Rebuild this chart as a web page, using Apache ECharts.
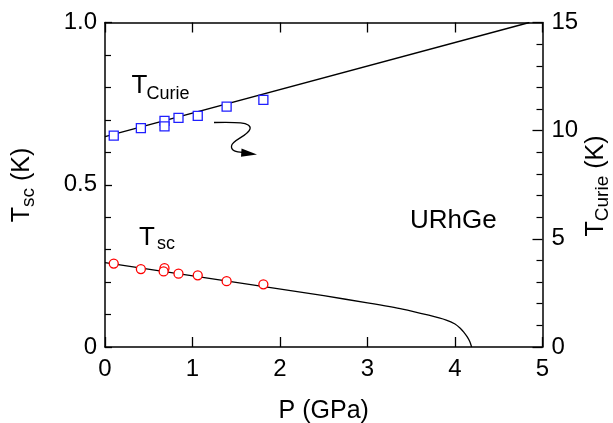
<!DOCTYPE html>
<html>
<head>
<meta charset="utf-8">
<script src="https://cdn.jsdelivr.net/npm/echarts@6/dist/echarts.min.js"></script>
<style>html,body{margin:0;padding:0;background:#fff;}#c{width:613px;height:423px;}</style>
</head>
<body>
<div id="c"></div>
<script>
// Data
var xTicks = [0, 1, 2, 3, 4, 5];
var leftTicks = ['0', '0.5', '1.0'];
var rightTicks = ['0', '5', '10', '15'];

// T_sc (left axis, K) measured points vs pressure (GPa)
var tscP = [0.10, 0.41, 0.68, 0.67, 0.84, 1.06, 1.39, 1.81];
var tscT = [0.257, 0.240, 0.243, 0.233, 0.226, 0.221, 0.203, 0.193];
// T_sc guide line
var tscLineP = [0, 2.5, 3.0, 3.4, 3.7, 3.9, 4.0, 4.06, 4.1, 4.14, 4.17, 4.19];
var tscLineT = [0.260, 0.158, 0.136, 0.117, 0.098, 0.083, 0.071, 0.058, 0.046, 0.031, 0.016, 0.0];

// T_Curie (right axis, K) measured points
var curieP = [0.10, 0.41, 0.68, 0.68, 0.84, 1.06, 1.39, 1.81];
var curieT = [9.77, 10.12, 10.45, 10.20, 10.59, 10.68, 11.11, 11.42];
// T_Curie guide line
var curieLineP = [0, 4.85];
var curieLineT = [9.72, 15];

function zip(a, b) { return a.map(function (v, i) { return [v, b[i]]; }); }

var chart = echarts.init(document.getElementById('c'), null, {renderer: 'canvas'});
var FONT = 'Liberation Sans, Arial, Helvetica, sans-serif';
var axisLine = {show: true, onZero: false, lineStyle: {color: '#000', width: 1.5}};

var option = {
  animation: false,
  backgroundColor: '#fff',
  grid: {left: 105, right: 70.5, top: 22.5, bottom: 76, containLabel: false, outerBoundsMode: 'none'},
  xAxis: [{
    type: 'value', min: 0, max: 5, interval: 1, position: 'bottom',
    axisLine: axisLine,
    axisTick: {show: true, inside: true, length: 10, lineStyle: {color: '#000', width: 1.3}},
    axisLabel: {show: true, margin: 10, fontSize: 24, color: '#000', fontFamily: FONT,
      formatter: function (v) { return String(xTicks[Math.round(v)]); }},
    splitLine: {show: false},
    name: 'P (GPa)', nameLocation: 'middle', nameGap: 52,
    nameTextStyle: {fontSize: 25, color: '#000', fontFamily: FONT}
  }, {
    type: 'value', min: 0, max: 5, interval: 1, position: 'top',
    axisLine: axisLine,
    axisTick: {show: true, inside: true, length: 10, lineStyle: {color: '#000', width: 1.3}},
    axisLabel: {show: false}, splitLine: {show: false}
  }],
  yAxis: [{
    type: 'value', min: 0, max: 1, interval: 0.5, position: 'left',
    axisLine: axisLine,
    axisTick: {show: true, inside: true, length: 7, lineStyle: {color: '#000', width: 1.3}},
    minorTick: {show: true, splitNumber: 5, length: 6, lineStyle: {color: '#000', width: 1.2}},
    axisLabel: {show: true, margin: 8, fontSize: 24, color: '#000', fontFamily: FONT,
      formatter: function (v) { return leftTicks[Math.round(v * 2)]; }},
    splitLine: {show: false}
  }, {
    type: 'value', min: 0, max: 15, interval: 5, position: 'right',
    axisLine: axisLine,
    axisTick: {show: true, inside: true, length: 10, lineStyle: {color: '#000', width: 1.3}},
    minorTick: {show: true, splitNumber: 5, length: 6, lineStyle: {color: '#000', width: 1.2}},
    axisLabel: {show: true, margin: 9, fontSize: 24, color: '#000', fontFamily: FONT,
      formatter: function (v) { return rightTicks[Math.round(v / 5)]; }},
    splitLine: {show: false}
  }],
  series: [{
    type: 'line', xAxisIndex: 0, yAxisIndex: 0, data: zip(tscLineP, tscLineT),
    showSymbol: false, symbol: 'none', smooth: 0.2,
    lineStyle: {color: '#000', width: 1.3}, z: 2
  }, {
    type: 'scatter', xAxisIndex: 0, yAxisIndex: 0, data: zip(tscP, tscT),
    symbol: 'circle', symbolSize: 9,
    itemStyle: {color: '#fff', borderColor: '#ff0000', borderWidth: 1.3, opacity: 1}, z: 3
  }, {
    type: 'line', xAxisIndex: 0, yAxisIndex: 1, data: zip(curieLineP, curieLineT),
    showSymbol: false, symbol: 'none',
    lineStyle: {color: '#000', width: 1.3}, z: 2
  }, {
    type: 'scatter', xAxisIndex: 0, yAxisIndex: 1, data: zip(curieP, curieT),
    symbol: 'rect', symbolSize: 9,
    itemStyle: {color: '#fff', borderColor: '#1f1fff', borderWidth: 1.3, opacity: 1}, z: 3
  }],
  graphic: [
    // in-plot labels
    {type: 'text', x: 131.5, y: 86, style: {text: 'T', fontSize: 26, fontFamily: FONT, fill: '#000', align: 'left', verticalAlign: 'middle'}},
    {type: 'text', x: 146.5, y: 93.7, style: {text: 'Curie', fontSize: 18, fontFamily: FONT, fill: '#000', align: 'left', verticalAlign: 'middle'}},
    {type: 'text', x: 139, y: 238, style: {text: 'T', fontSize: 26, fontFamily: FONT, fill: '#000', align: 'left', verticalAlign: 'middle'}},
    {type: 'text', x: 157, y: 244.2, style: {text: 'sc', fontSize: 18, fontFamily: FONT, fill: '#000', align: 'left', verticalAlign: 'middle'}},
    {type: 'text', x: 410, y: 220.5, style: {text: 'URhGe', fontSize: 26, fontFamily: FONT, fill: '#000', align: 'left', verticalAlign: 'middle'}},
    // axis names (rotated)
    {type: 'text', x: 24, y: 185, rotation: Math.PI / 2,
      style: {text: '{t|T}{s|sc}{t| (K)}', align: 'center', verticalAlign: 'middle', fill: '#000',
        rich: {t: {fontSize: 25, fontFamily: FONT, verticalAlign: 'bottom', padding: [0, 0, 4, 0], fill: '#000'},
               s: {fontSize: 19, fontFamily: FONT, verticalAlign: 'bottom', fill: '#000'}}}},
    {type: 'text', x: 598, y: 186, rotation: Math.PI / 2,
      style: {text: '{t|T}{s|Curie}{t| (K)}', align: 'center', verticalAlign: 'middle', fill: '#000',
        rich: {t: {fontSize: 25, fontFamily: FONT, verticalAlign: 'bottom', padding: [0, 0, 4, 0], fill: '#000'},
               s: {fontSize: 19, fontFamily: FONT, verticalAlign: 'bottom', fill: '#000'}}}},
    // curly arrow
    {type: 'bezierCurve', shape: {x1: 214, y1: 122.5, cpx1: 235, cpy1: 122, cpx2: 252, cpy2: 122, x2: 250, y2: 129},
      style: {fill: null, stroke: '#000', lineWidth: 1.3}},
    {type: 'bezierCurve', shape: {x1: 250, y1: 129, cpx1: 248, cpy1: 136, cpx2: 232, cpy2: 140, x2: 231.5, y2: 146},
      style: {fill: null, stroke: '#000', lineWidth: 1.3}},
    {type: 'bezierCurve', shape: {x1: 231.5, y1: 146, cpx1: 231, cpy1: 151, cpx2: 236, cpy2: 152, x2: 243, y2: 152.5},
      style: {fill: null, stroke: '#000', lineWidth: 1.3}},
    {type: 'polygon', shape: {points: [[241.5, 148.5], [257, 154.5], [241, 156.8]]}, style: {fill: '#000'}}
  ]
};
chart.setOption(option);
</script>
</body>
</html>
